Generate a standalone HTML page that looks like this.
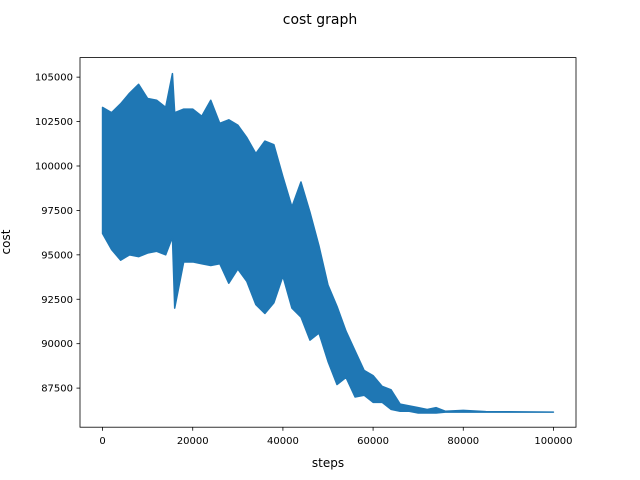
<!DOCTYPE html>
<html><head><meta charset="utf-8"><style>
body{margin:0;background:#fff;}
svg{display:block;font-family:"DejaVu Sans","Liberation Sans",sans-serif;}
</style></head><body>
<svg id="chart" width="640" height="480">
<rect width="640" height="480" fill="#fff"/>
<text x="320" y="24" font-size="14" text-anchor="middle">cost graph</text>
<g id="plot"></g>
<g id="xticks"></g><g id="yticks"></g>
<rect x="80" y="57.6" width="496" height="369.6" fill="none" stroke="#000" stroke-width="0.8"/>
<text x="328" y="467" font-size="12" text-anchor="middle">steps</text>
<text x="10" y="242" font-size="12" text-anchor="middle" transform="rotate(-90 10 242)">cost</text>
</svg>
<script>
const steps=[0,2000,4000,6000,8000,10000,12000,14000,15500,16000,18000,20000,22000,24000,26000,28000,30000,32000,34000,36000,38000,40000,42000,44000,46000,48000,50000,52000,54000,56000,58000,60000,62000,64000,66000,68000,70000,72000,74000,76000,80000,85000,100000];
const upper=[103300,103000,103500,104100,104600,103800,103700,103300,105200,103000,103200,103200,102800,103700,102400,102600,102300,101600,100700,101400,101200,99400,97700,99100,97400,95500,93300,92100,90700,89600,88500,88200,87600,87400,86600,86500,86400,86300,86400,86200,86250,86180,86150];
const lower=[96200,95300,94700,95000,94900,95100,95200,95000,96000,92000,94600,94600,94500,94400,94500,93400,94200,93500,92200,91700,92300,93800,92000,91500,90200,90600,89000,87700,88100,87000,87100,86700,86700,86300,86200,86200,86100,86100,86100,86150,86150,86150,86150];
const xTicks=[0,20000,40000,60000,80000,100000];
const yTicks=[87500,90000,92500,95000,97500,100000,102500,105000];
const X0=80,X1=576,Y0=427.2,Y1=57.6,xmin=-5000,xmax=105000,ymin=85300,ymax=106100;
const sx=v=>X0+(v-xmin)/(xmax-xmin)*(X1-X0);
const sy=v=>Y0-(v-ymin)/(ymax-ymin)*(Y0-Y1);
const NS="http://www.w3.org/2000/svg";
const plot=document.getElementById('plot');
let pts=[];
for(let i=0;i<steps.length;i++)pts.push(sx(steps[i])+','+sy(upper[i]));
for(let i=steps.length-1;i>=0;i--)pts.push(sx(steps[i])+','+sy(lower[i]));
const band=document.createElementNS(NS,'polygon');
band.setAttribute('points',pts.join(' '));
band.setAttribute('fill','#1f77b4');band.setAttribute('stroke','#1f77b4');band.setAttribute('stroke-width','1.5');band.setAttribute('stroke-linejoin','round');


plot.appendChild(band);
const xg=document.getElementById('xticks');
xTicks.forEach(t=>{const x=sx(t);
const l=document.createElementNS(NS,'line');l.setAttribute('x1',x);l.setAttribute('x2',x);l.setAttribute('y1',Y0);l.setAttribute('y2',Y0+3.5);l.setAttribute('stroke','#000');l.setAttribute('stroke-width','0.8');


xg.appendChild(l);
const tx=document.createElementNS(NS,'text');tx.setAttribute('x',x);tx.setAttribute('y',Y0+17);tx.setAttribute('font-size','10');tx.setAttribute('text-anchor','middle');tx.textContent=t;


xg.appendChild(tx);});
const yg=document.getElementById('yticks');
yTicks.forEach(t=>{const y=sy(t);
const l=document.createElementNS(NS,'line');l.setAttribute('x1',X0-3.5);l.setAttribute('x2',X0);l.setAttribute('y1',y);l.setAttribute('y2',y);l.setAttribute('stroke','#000');l.setAttribute('stroke-width','0.8');


yg.appendChild(l);
const tx=document.createElementNS(NS,'text');tx.setAttribute('x',X0-7);tx.setAttribute('y',y+3.5);tx.setAttribute('font-size','10');tx.setAttribute('text-anchor','end');tx.textContent=t;


yg.appendChild(tx);});
</script>
</body></html>
